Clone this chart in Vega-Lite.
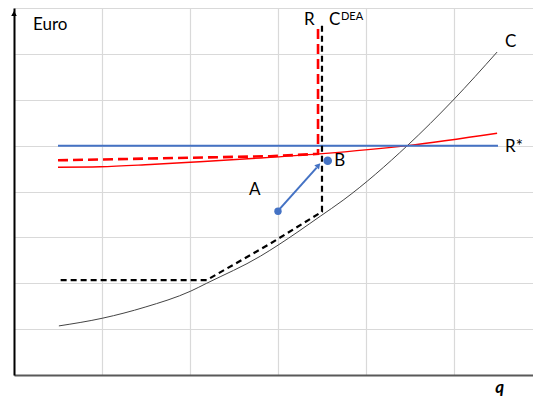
{
  "$schema": "https://vega.github.io/schema/vega-lite/v6.json",
  "autosize": {"type": "none"},
  "width": 519,
  "height": 367,
  "padding": {"left": 14, "top": 8, "right": 0, "bottom": 23},
  "background": "white",
  "config": {"view": {"stroke": null}, "font": "Lato"},
  "datasets": {
    "cost": [
      {"x": 0.51, "y": 1.07}, {"x": 1.01, "y": 1.24}, {"x": 1.49, "y": 1.48},
      {"x": 2.01, "y": 1.83}, {"x": 2.19, "y": 2.0}, {"x": 2.8, "y": 2.59},
      {"x": 3.0, "y": 2.83}, {"x": 3.48, "y": 3.46}, {"x": 3.74, "y": 3.81},
      {"x": 4.47, "y": 5.0}, {"x": 4.99, "y": 5.99}, {"x": 5.49, "y": 7.04}
    ],
    "revenue": [
      {"x": 0.5, "y": 4.53}, {"x": 0.98, "y": 4.54}, {"x": 1.55, "y": 4.59},
      {"x": 2.11, "y": 4.65}, {"x": 2.8, "y": 4.73}, {"x": 3.47, "y": 4.82},
      {"x": 4.47, "y": 5.0}, {"x": 5.49, "y": 5.27}
    ],
    "rstar": [{"x": 0.5, "y": 5.0}, {"x": 5.5, "y": 5.0}],
    "rdea": [
      {"i": 1, "x": 0.5, "y": 4.68}, {"i": 2, "x": 2.91, "y": 4.77},
      {"i": 3, "x": 3.455, "y": 4.82}, {"i": 4, "x": 3.455, "y": 7.63}
    ],
    "cdea": [
      {"i": 1, "x": 0.53, "y": 2.07}, {"i": 2, "x": 2.19, "y": 2.07},
      {"i": 3, "x": 2.91, "y": 2.86}, {"i": 4, "x": 3.5, "y": 3.56},
      {"i": 5, "x": 3.5, "y": 7.63}
    ],
    "arrow": [{"x": 3.02, "y": 3.62}, {"x": 3.44, "y": 4.52}],
    "arrowhead": [{"x": 3.46, "y": 4.57}],
    "pointA": [{"x": 3.0, "y": 3.57}],
    "pointB": [{"x": 3.565, "y": 4.67}],
    "yarrow": [{"x": 0, "y": 7.88}],
    "labels": [
      {"x": 0.216, "y": 7.63, "t": "Euro"},
      {"x": 3.295, "y": 7.74, "t": "R"},
      {"x": 3.58, "y": 7.74, "t": "C"},
      {"x": 5.58, "y": 4.98, "t": "R*"},
      {"x": 5.58, "y": 7.26, "t": "C"},
      {"x": 2.67, "y": 4.03, "t": "A"},
      {"x": 3.64, "y": 4.66, "t": "B"}
    ],
    "sup": [{"x": 3.716, "y": 7.8, "t": "DEA"}],
    "qlab": [{"x": 5.47, "y": -0.28, "t": "q"}]
  },
  "layer": [
    {
      "data": {"name": "cost"},
      "mark": {"type": "line", "color": "#444444", "strokeWidth": 1, "interpolate": "monotone"},
      "encoding": {
        "x": {"field": "x", "type": "quantitative",
              "scale": {"domain": [0, 5.898], "nice": false, "zero": false},
              "axis": {"values": [0, 1, 2, 3, 4, 5], "labels": false, "ticks": false, "title": null,
                       "grid": true, "gridColor": "#d9d9d9", "gridWidth": 1.2,
                       "domainColor": "#595959", "domainWidth": 2}},
        "y": {"field": "y", "type": "quantitative",
              "scale": {"domain": [0, 8], "nice": false, "zero": false},
              "axis": {"values": [0, 1, 2, 3, 4, 5, 6, 7, 8], "labels": false, "ticks": false, "title": null,
                       "grid": true, "gridColor": "#d9d9d9", "gridWidth": 1.2,
                       "domainColor": "#000000", "domainWidth": 2}}
      }
    },
    {
      "data": {"name": "revenue"},
      "mark": {"type": "line", "color": "#ff0000", "strokeWidth": 1.4, "interpolate": "monotone"},
      "encoding": {"x": {"field": "x", "type": "quantitative"}, "y": {"field": "y", "type": "quantitative"}}
    },
    {
      "data": {"name": "rstar"},
      "mark": {"type": "line", "color": "#4472c4", "strokeWidth": 2},
      "encoding": {"x": {"field": "x", "type": "quantitative"}, "y": {"field": "y", "type": "quantitative"}}
    },
    {
      "data": {"name": "rdea"},
      "mark": {"type": "line", "color": "#ff0000", "strokeWidth": 2.6, "strokeDash": [10, 5]},
      "encoding": {"x": {"field": "x", "type": "quantitative"}, "y": {"field": "y", "type": "quantitative"},
                   "order": {"field": "i", "type": "quantitative"}}
    },
    {
      "data": {"name": "cdea"},
      "mark": {"type": "line", "color": "#000000", "strokeWidth": 2.2, "strokeDash": [6, 4]},
      "encoding": {"x": {"field": "x", "type": "quantitative"}, "y": {"field": "y", "type": "quantitative"},
                   "order": {"field": "i", "type": "quantitative"}}
    },
    {
      "data": {"name": "arrow"},
      "mark": {"type": "line", "color": "#4472c4", "strokeWidth": 2},
      "encoding": {"x": {"field": "x", "type": "quantitative"}, "y": {"field": "y", "type": "quantitative"}}
    },
    {
      "data": {"name": "arrowhead"},
      "mark": {"type": "point", "shape": "triangle-up", "filled": true, "color": "#4472c4", "size": 40, "angle": 42, "opacity": 1},
      "encoding": {"x": {"field": "x", "type": "quantitative"}, "y": {"field": "y", "type": "quantitative"}}
    },
    {
      "data": {"name": "pointA"},
      "mark": {"type": "circle", "color": "#4472c4", "size": 55, "opacity": 1},
      "encoding": {"x": {"field": "x", "type": "quantitative"}, "y": {"field": "y", "type": "quantitative"}}
    },
    {
      "data": {"name": "pointB"},
      "mark": {"type": "circle", "color": "#4472c4", "size": 75, "opacity": 1},
      "encoding": {"x": {"field": "x", "type": "quantitative"}, "y": {"field": "y", "type": "quantitative"}}
    },
    {
      "data": {"name": "yarrow"},
      "mark": {"type": "point", "shape": "triangle-up", "filled": true, "color": "#000000", "size": 32, "opacity": 1},
      "encoding": {"x": {"field": "x", "type": "quantitative"}, "y": {"field": "y", "type": "quantitative"}}
    },
    {
      "data": {"name": "labels"},
      "mark": {"type": "text", "align": "left", "baseline": "middle", "font": "Lato", "fontSize": 17, "color": "#000000"},
      "encoding": {"x": {"field": "x", "type": "quantitative"}, "y": {"field": "y", "type": "quantitative"},
                   "text": {"field": "t"}}
    },
    {
      "data": {"name": "sup"},
      "mark": {"type": "text", "align": "left", "baseline": "middle", "font": "Lato", "fontSize": 11, "color": "#000000"},
      "encoding": {"x": {"field": "x", "type": "quantitative"}, "y": {"field": "y", "type": "quantitative"},
                   "text": {"field": "t"}}
    },
    {
      "data": {"name": "qlab"},
      "mark": {"type": "text", "align": "left", "baseline": "middle", "font": "Lato", "fontSize": 17,
               "fontWeight": "bold", "fontStyle": "italic", "color": "#000000"},
      "encoding": {"x": {"field": "x", "type": "quantitative"}, "y": {"field": "y", "type": "quantitative"},
                   "text": {"field": "t"}}
    }
  ]
}
